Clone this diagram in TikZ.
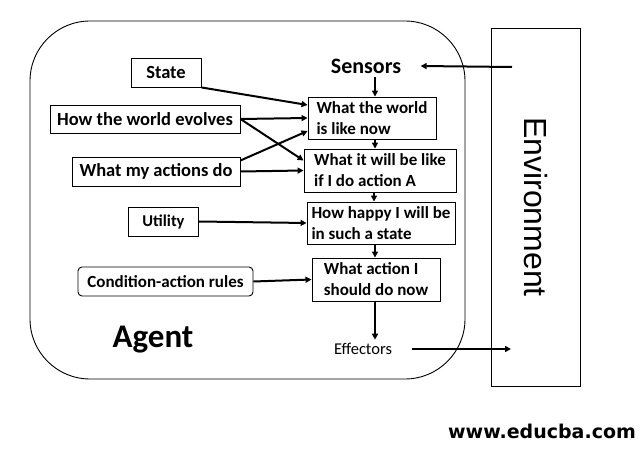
\documentclass[tikz,border=0pt]{standalone}
\usepackage{fontspec}
\setmainfont{Carlito}
\newfontfamily\envfont{Liberation Sans}
\newfontfamily\webfont{DejaVu Sans}
\usetikzlibrary{arrows.meta,positioning}
\tikzset{
  blk/.style={draw, line width=0.9pt, inner sep=2pt, font=\bfseries\fontsize{18.5}{20}\selectfont},
  stepbox/.style={draw, line width=0.9pt, inner sep=2pt, align=left, font=\bfseries\fontsize{17}{21}\selectfont},
  flow/.style={line width=2pt, -{Triangle[length=6pt,width=6pt]}}
}
\begin{document}
\begin{tikzpicture}[x=1pt,y=-1pt]
\useasboundingbox (0,0) rectangle (643,449);
% agent and environment
\draw[line width=0.9pt, rounded corners=60pt] (30,21) rectangle (465,379);
\node[draw, line width=0.9pt, minimum width=89pt, minimum height=358pt] (env) at (535.5,207) {};
\node[rotate=-90, font=\envfont\fontsize{32}{34}\selectfont] (envlabel) at (env) {Environment};
\node[font=\bfseries\fontsize{33}{36}\selectfont] (agent) at (153,340) {Agent};
% knowledge boxes
\node[blk, minimum width=70pt, minimum height=29pt] (state) at (166,72.5) {State};
\node[blk, minimum width=190pt, minimum height=28pt] (evolves) at (145,119) {How the world evolves};
\node[blk, minimum width=168pt, minimum height=29pt] (actions) at (156,171.5) {What my actions do};
\node[blk, minimum width=70pt, minimum height=29pt, font=\bfseries\fontsize{16.5}{20}\selectfont] (utility) at (163.5,221.5) {Utility};
\node[blk, rounded corners=4pt, minimum width=175pt, minimum height=29pt, font=\bfseries\fontsize{17}{20}\selectfont] (rules) at (165.5,281.5) {Condition-action rules};
% reasoning chain
\node[font=\bfseries\fontsize{22}{24}\selectfont] (sensors) at (366,66) {Sensors};
\node[stepbox, minimum width=128pt, minimum height=42pt] (now) at (372,118) {What the world\\is like now};
\node[stepbox, minimum width=152pt, minimum height=43pt] (willbe) at (380,170.5) {What it will be like\\if I do action A};
\node[stepbox, minimum width=148pt, minimum height=42pt] (happy) at (381,223) {How happy I will be\\in such a state};
\node[stepbox, minimum width=128pt, minimum height=43pt] (whatact) at (376,279.5) {What action I\\should do now};
\node[font=\fontsize{16.5}{18}\selectfont] (effectors) at (363,349) {Effectors};
\node[font=\webfont\bfseries\fontsize{19}{21}\selectfont] (web) at (542,431) {www.educba.com};
\coordinate (envin) at (512,67);
\coordinate (envout) at (511,349);
% connectors
\draw[flow] (envin) -- ([xshift=16pt]sensors.east);
\draw[flow] (sensors.south -| 375,0) -- (now.north -| 375,0);
\draw[flow] (now.south -| 375,0) -- (willbe.north -| 375,0);
\draw[flow] (willbe.south -| 374,0) -- (happy.north -| 374,0);
\draw[flow] (happy.south -| 375,0) -- (whatact.north -| 375,0);
\draw[flow] (whatact.south -| 375,0) -- (effectors.north -| 375,0);
\draw[flow] ([xshift=16pt]effectors.east) -- (envout);
\draw[flow] (state.south east) -- ([yshift=13pt]now.west);
\draw[flow] (evolves.east) -- (now.west);
\draw[flow] (evolves.east) -- ([yshift=10pt]willbe.west);
\draw[flow] ([yshift=11pt]actions.east) -- ([yshift=-13pt]now.west);
\draw[flow] (actions.east) -- (willbe.west);
\draw[flow] (utility.east) -- (happy.west);
\draw[flow] (rules.east) -- (whatact.west);
\end{tikzpicture}
\end{document}
